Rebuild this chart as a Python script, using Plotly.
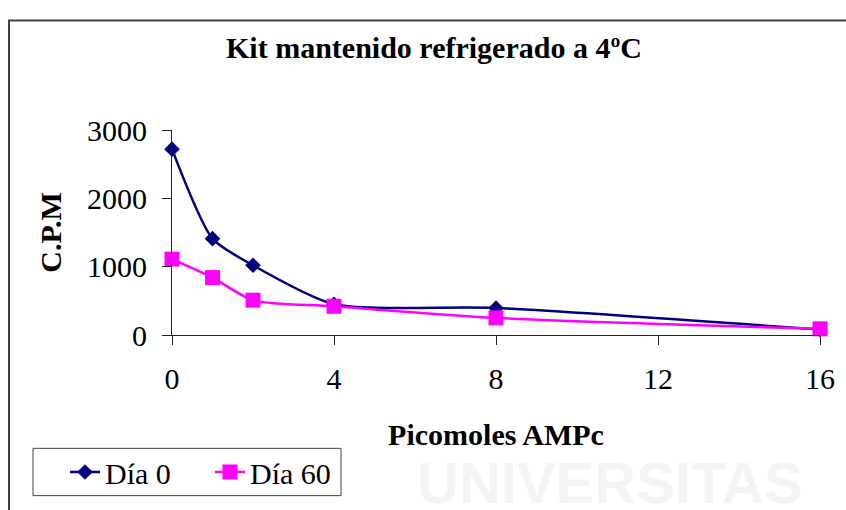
import plotly.graph_objects as go

# Data
x_vals = [0, 1, 2, 4, 8, 16]
dia0 = [2720, 1410, 1020, 450, 395, 80]
dia60 = [1110, 840, 510, 420, 250, 90]
x_ticks = [0, 4, 8, 12, 16]
y_ticks = [0, 1000, 2000, 3000]

W, H = 846, 510
L, R, T, B = 172, 26, 130, 172
pw, ph = W - L - R, H - T - B

def px_x(p):
    return (p - L) / pw

def px_y(p):
    return (H - B - p) / ph

serif = "Liberation Serif, Times New Roman, serif"

fig = go.Figure()
fig.add_trace(go.Scatter(
    x=x_vals, y=dia0, name="Día 0", mode="lines+markers",
    line=dict(color="#000080", width=2.5, shape="spline", smoothing=0.65),
    marker=dict(symbol="diamond", size=12, color="#000080"),
    cliponaxis=False,
))
fig.add_trace(go.Scatter(
    x=x_vals, y=dia60, name="Día 60", mode="lines+markers",
    line=dict(color="#FF00FF", width=2.5, shape="spline", smoothing=0.75),
    marker=dict(symbol="square", size=15, color="#FF00FF"),
    cliponaxis=False,
))

fig.update_layout(
    width=W, height=H,
    margin=dict(l=L, r=R, t=T, b=B),
    paper_bgcolor="white", plot_bgcolor="white",
    font=dict(family=serif, color="black", size=30),
    title=dict(text="<b>Kit mantenido refrigerado a 4ºC</b>",
               x=434 / W, xanchor="center", xref="container",
               y=1 - 47 / H, yanchor="middle", yref="container",
               font=dict(size=30, family=serif, color="black")),
    showlegend=True,
    legend=dict(orientation="h", x=px_x(65), xanchor="left",
                y=px_y(477), yanchor="middle",
                font=dict(size=30, family=serif, color="black"),
                bgcolor="rgba(0,0,0,0)", borderwidth=0,
                entrywidth=100, entrywidthmode="pixels"),
)

fig.update_xaxes(
    range=[0, 16], tickvals=x_ticks, ticktext=[str(v) for v in x_ticks],
    showgrid=False, zeroline=False, showline=True, linecolor="#222", linewidth=1,
    ticks="outside", ticklen=9, tickcolor="#222", ticklabelstandoff=8,
    tickfont=dict(size=30, family=serif),
    title=dict(text="<b>Picomoles AMPc</b>", font=dict(size=30, family=serif), standoff=29),
)
fig.update_yaxes(
    range=[0, 3000], tickvals=y_ticks, ticktext=[str(v) for v in y_ticks],
    showgrid=False, zeroline=False, showline=True, linecolor="#222", linewidth=1,
    ticks="outside", ticklen=9, tickcolor="#222", ticklabelstandoff=9,
    tickfont=dict(size=30, family=serif),
    title=dict(text="<b>C.P.M</b>", font=dict(size=30, family=serif), standoff=16),
)

# outer chart border
fig.add_shape(type="rect", xref="paper", yref="paper",
              x0=px_x(9), x1=px_x(W + 20), y0=px_y(H + 20), y1=px_y(19),
              line=dict(color="#404040", width=2), fillcolor="rgba(0,0,0,0)", layer="below")
# legend box
fig.add_shape(type="rect", xref="paper", yref="paper",
              x0=px_x(33), x1=px_x(341), y0=px_y(501), y1=px_y(453),
              line=dict(color="#404040", width=1), fillcolor="rgba(0,0,0,0)", layer="below")

# faint watermark from the source page
fig.add_annotation(text="<b>UNIVERSITAS</b>", xref="paper", yref="paper",
                   x=px_x(610), y=px_y(453), xanchor="center", yanchor="top",
                   showarrow=False,
                   font=dict(size=58, family="Liberation Sans, Arial, sans-serif", color="#f4f4f4"))

fig.write_html("out.html")
